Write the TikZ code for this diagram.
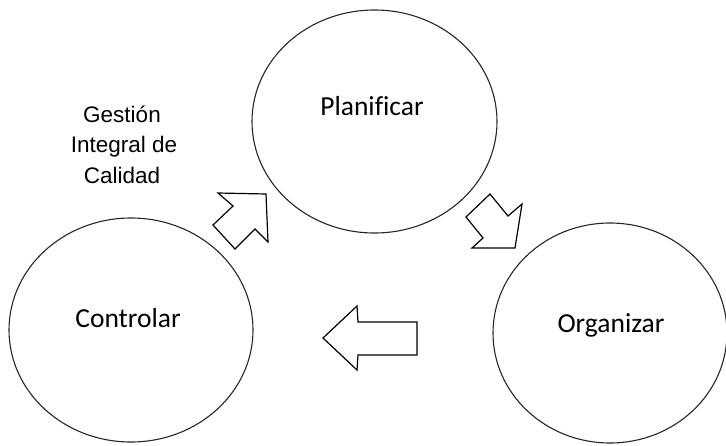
\documentclass[tikz,border=0pt]{standalone}
\usepackage{fontspec}
\setmainfont{Carlito}[Ligatures=CommonOff]
\newfontfamily\gicfont{Liberation Sans}
\usetikzlibrary{shapes.geometric}
\begin{document}
\begin{tikzpicture}[x=1pt,y=-1pt,
  phase/.style={draw=black!85, line width=1.1pt, ellipse, inner sep=0pt},
  lbl/.style={anchor=base, inner sep=0pt, font=\fontsize{27.5}{32}\selectfont},
  gic/.style={anchor=base, inner sep=0pt, font=\gicfont\fontsize{22.5}{30}\selectfont},
  blockarrow/.style={draw=black, line width=1.2pt, line join=miter, fill=white}]
\useasboundingbox (0,0) rectangle (726,445);
% circles
\node[phase, minimum width=245pt, minimum height=223pt] (plan) at (374.5,121.5) {};
\node[phase, minimum width=244pt, minimum height=224pt] (ctrl) at (131,330) {};
\node[phase, minimum width=234pt, minimum height=220pt] (org) at (610,333) {};
% labels
\node[lbl] (tplan) at (372,115) {Planificar};
\node[lbl] (tctrl) at (128,327) {Controlar};
\node[lbl] (torg) at (611,332) {Organizar};
\node[gic] (g1) at (122,122) {Gestión};
\node[gic] (g2) at (124,152.5) {Integral de};
\node[gic] (g3) at (122,183) {Calidad};
% block arrows
\draw[blockarrow] (213,225) -- (233,206) -- (218,193) -- (266,194) -- (268,242) -- (255,229) -- (235,249) -- cycle;
\draw[blockarrow] (490,194) -- (508,216) -- (522,204) -- (515,248) -- (472,248) -- (483,238) -- (466,217) -- cycle;
\draw[blockarrow] (417,322) -- (358,322) -- (357,306) -- (323,338) -- (357,370) -- (358,355) -- (417,355) -- cycle;
\end{tikzpicture}
\end{document}
